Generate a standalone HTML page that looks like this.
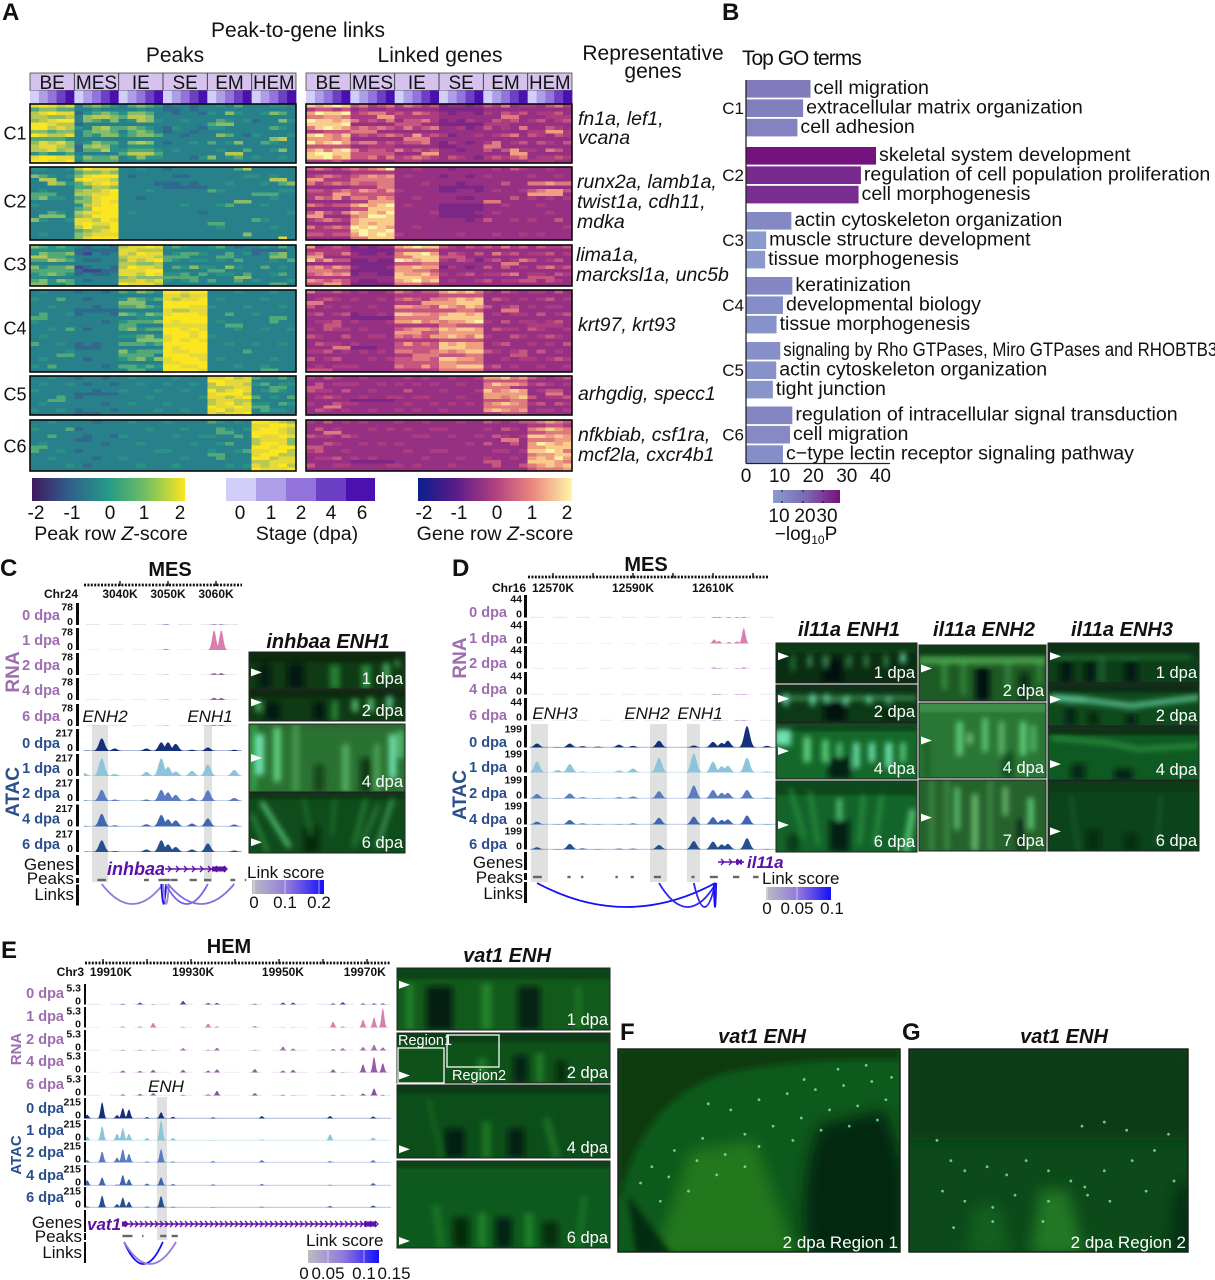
<!DOCTYPE html>
<html lang="en">
<head>
<meta charset="utf-8">
<title>Peak-to-gene links figure</title>
<style>
html,body{margin:0;padding:0;background:#fff;}
svg{display:block;}
svg text{font-family:"Liberation Sans",sans-serif;fill:#111;}
.t21{font-size:21px;}
.rep{font-size:19.5px;font-style:italic;}
.pl{font-size:24px;font-weight:bold;}
.btl{font-size:20px;font-weight:bold;font-style:italic;}
</style>
</head>
<body>
<svg id="fig" xmlns="http://www.w3.org/2000/svg" width="1215" height="1280" viewBox="0 0 1215 1280">
<defs>
<filter id="b1" x="-30%" y="-30%" width="160%" height="160%"><feGaussianBlur stdDeviation="1"/></filter>
<filter id="b2" x="-30%" y="-30%" width="160%" height="160%"><feGaussianBlur stdDeviation="2.8"/></filter>
<filter id="b3" x="-50%" y="-50%" width="200%" height="200%"><feGaussianBlur stdDeviation="3"/></filter>
<filter id="b8" x="-50%" y="-50%" width="200%" height="200%"><feGaussianBlur stdDeviation="7"/></filter>
<linearGradient id="gPeak"><stop offset="0" stop-color="#42195f"/><stop offset=".25" stop-color="#31618c"/><stop offset=".5" stop-color="#259a86"/><stop offset=".75" stop-color="#74c062"/><stop offset="1" stop-color="#fbe61f"/></linearGradient>
<linearGradient id="gGene"><stop offset="0" stop-color="#0a1e8c"/><stop offset=".25" stop-color="#5c1c8a"/><stop offset=".5" stop-color="#b0407f"/><stop offset=".75" stop-color="#ec8a80"/><stop offset="1" stop-color="#fdf6a8"/></linearGradient>
<linearGradient id="gGo"><stop offset="0" stop-color="#8a9ccf"/><stop offset=".5" stop-color="#7c68b2"/><stop offset="1" stop-color="#78107e"/></linearGradient>
<linearGradient id="gLink"><stop offset="0" stop-color="#bcbcc2"/><stop offset=".5" stop-color="#9078dc"/><stop offset="1" stop-color="#1410f8"/></linearGradient>
</defs>

<text class="pl" x="2" y="20">A</text>
<text class="t21" x="298" y="37" text-anchor="middle">Peak-to-gene links</text>
<text class="t21" x="175" y="62" text-anchor="middle">Peaks</text>
<text class="t21" x="440" y="62" text-anchor="middle">Linked genes</text>
<text class="t21" x="653" y="60" text-anchor="middle">Representative</text>
<text class="t21" x="653" y="78" text-anchor="middle">genes</text>

<g id="heatLayer"></g>

<g>
<text class="rep" x="578" y="125">fn1a, lef1,</text>
<text class="rep" x="578" y="144">vcana</text>
<text class="rep" x="577" y="188">runx2a, lamb1a,</text>
<text class="rep" x="577" y="208">twist1a, cdh11,</text>
<text class="rep" x="577" y="228">mdka</text>
<text class="rep" x="576" y="261">lima1a,</text>
<text class="rep" x="576" y="281">marcksl1a, unc5b</text>
<text class="rep" x="578" y="331">krt97, krt93</text>
<text class="rep" x="578" y="400">arhgdig, specc1</text>
<text class="rep" x="578" y="441">nfkbiab, csf1ra,</text>
<text class="rep" x="578" y="461">mcf2la, cxcr4b1</text>
</g>

<g>
<rect x="32" y="478" width="153" height="23" fill="url(#gPeak)"/>
<text style="font-size:19px" x="36" y="519" text-anchor="middle">-2</text>
<text style="font-size:19px" x="72" y="519" text-anchor="middle">-1</text>
<text style="font-size:19px" x="110" y="519" text-anchor="middle">0</text>
<text style="font-size:19px" x="144" y="519" text-anchor="middle">1</text>
<text style="font-size:19px" x="180" y="519" text-anchor="middle">2</text>
<text style="font-size:19.6px" x="111" y="540" text-anchor="middle">Peak row <tspan font-style="italic">Z</tspan>-score</text>
</g>
<g>
<rect x="226" y="478" width="30" height="23" fill="#d2cefa"/>
<rect x="256" y="478" width="30" height="23" fill="#ae9ee8"/>
<rect x="286" y="478" width="30" height="23" fill="#9274dc"/>
<rect x="316" y="478" width="30" height="23" fill="#6d3fc4"/>
<rect x="346" y="478" width="29" height="23" fill="#4a10b0"/>
<text style="font-size:19px" x="240" y="519" text-anchor="middle">0</text>
<text style="font-size:19px" x="271" y="519" text-anchor="middle">1</text>
<text style="font-size:19px" x="301" y="519" text-anchor="middle">2</text>
<text style="font-size:19px" x="331" y="519" text-anchor="middle">4</text>
<text style="font-size:19px" x="362" y="519" text-anchor="middle">6</text>
<text style="font-size:19.6px" x="307" y="540" text-anchor="middle">Stage (dpa)</text>
</g>
<g>
<rect x="418" y="478" width="154" height="23" fill="url(#gGene)"/>
<text style="font-size:19px" x="424" y="519" text-anchor="middle">-2</text>
<text style="font-size:19px" x="459" y="519" text-anchor="middle">-1</text>
<text style="font-size:19px" x="497" y="519" text-anchor="middle">0</text>
<text style="font-size:19px" x="532" y="519" text-anchor="middle">1</text>
<text style="font-size:19px" x="567" y="519" text-anchor="middle">2</text>
<text style="font-size:19.6px" x="495" y="540" text-anchor="middle">Gene row <tspan font-style="italic">Z</tspan>-score</text>
</g>

<text class="pl" x="722" y="20">B</text>
<text class="t21" x="742" y="65" letter-spacing="-1">Top GO terms</text>
<g id="goLayer"></g>
<g>
<rect x="773" y="490" width="67" height="13" fill="url(#gGo)"/>
<path d="M782 490v2M782 501v2M803 490v2M803 501v2M823 490v2M823 501v2" stroke="#111" stroke-width="1"/>
<text style="font-size:19px" x="779" y="522" text-anchor="middle">10</text>
<text style="font-size:19px" x="805" y="522" text-anchor="middle">20</text>
<text style="font-size:19px" x="827" y="522" text-anchor="middle">30</text>
<text style="font-size:19px" x="806" y="540" text-anchor="middle">−log<tspan font-size="12" dy="4">10</tspan><tspan dy="-4">P</tspan></text>
</g>

<text class="pl" x="0" y="576">C</text>
<text class="pl" x="452" y="576">D</text>
<text class="pl" x="1" y="958">E</text>
<text class="pl" x="620" y="1040">F</text>
<text class="pl" x="902" y="1040">G</text>

<g id="trackLayer"></g>
<g id="microLayer"></g>

<text class="btl" x="328" y="648" text-anchor="middle">inhbaa ENH1</text>
<text class="btl" x="849" y="636" text-anchor="middle">il11a ENH1</text>
<text class="btl" x="984" y="636" text-anchor="middle">il11a ENH2</text>
<text class="btl" x="1122" y="636" text-anchor="middle">il11a ENH3</text>
<text class="btl" x="507" y="962" text-anchor="middle">vat1 ENH</text>
<text class="btl" x="762" y="1043" text-anchor="middle">vat1 ENH</text>
<text class="btl" x="1064" y="1043" text-anchor="middle">vat1 ENH</text>
</svg>

<script>
/* ---------- Panel A heatmap values (0 = z -2 ... 9 = z +2) ---------- */
const clusterNames = ['C1','C2','C3','C4','C5','C6'];
const groupNames = ['BE','MES','IE','SE','EM','HEM'];
const peakC1 = [
[8,9,8,7,8,3,5,6,5,4,3,5,6,5,4,2,3,3,2,3,3,4,3,5,3,3,3,4,4,3],
[7,8,9,8,8,2,4,5,6,5,4,6,6,5,3,3,2,3,3,2,4,3,6,4,3,3,4,6,5,3],
[6,7,8,9,9,3,6,5,4,6,3,4,7,6,4,3,3,4,3,3,3,5,4,3,4,2,3,3,6,4],
[9,9,7,8,7,4,3,6,7,5,5,6,5,4,3,2,4,3,3,2,4,4,3,3,3,3,3,5,4,3],
[9,8,7,7,8,3,5,4,6,6,4,5,6,6,5,3,3,2,3,3,3,6,5,3,2,4,3,3,3,4],
[6,8,7,8,6,3,4,6,5,5,3,6,7,6,3,2,3,3,4,3,5,3,4,6,3,3,5,4,3,3],
[7,7,8,6,7,2,5,5,7,4,4,5,5,5,4,3,4,3,3,3,3,4,3,3,5,3,3,4,6,3],
[8,9,9,8,8,4,6,5,5,6,3,4,6,4,4,3,3,3,2,4,6,3,4,5,3,4,3,3,4,3]];
const peakC1b = [
[5,6,6,5,5,3,3,4,3,3,3,3,4,3,3,2,2,3,2,3,3,3,3,3,3,3,3,3,3,3],
[7,7,6,6,7,3,6,7,7,6,5,7,7,6,3,3,3,3,3,3,3,3,3,3,3,3,3,3,3,3],
[9,9,8,7,7,2,3,3,3,3,3,3,3,3,3,3,3,3,3,3,5,6,6,3,3,3,3,3,3,3],
[6,6,5,6,6,3,5,6,6,5,3,5,6,5,3,2,3,3,2,3,3,3,3,3,3,3,3,3,3,3],
[5,5,5,5,4,3,3,3,3,3,3,3,3,3,3,3,3,3,3,3,3,3,3,3,3,3,3,6,7,3],
[7,8,8,7,6,2,6,7,6,4,3,4,4,4,3,3,3,3,3,3,3,3,3,3,3,3,3,3,3,3],
[4,5,4,4,5,3,3,3,3,3,5,7,7,7,5,3,3,3,3,3,3,3,7,7,3,3,3,3,3,3],
[9,9,8,8,9,3,5,5,5,5,3,3,3,3,3,3,3,3,3,3,3,3,3,3,3,3,3,3,3,3]];
const peakC2 = [
[4,4,3,3,4,7,9,8,8,8,3,3,4,3,3,2,3,3,3,3,3,3,3,5,7,3,3,3,3,3],
[6,5,4,3,4,6,8,9,9,9,3,2,3,3,3,3,2,2,3,3,3,3,3,3,4,4,3,4,3,3],
[3,3,7,6,4,5,7,8,9,8,3,3,3,3,2,2,2,3,2,3,3,3,4,3,3,3,4,3,5,6],
[3,4,3,3,3,6,7,7,8,9,3,3,3,4,3,3,3,3,3,3,5,4,3,3,3,3,3,3,4,4],
[5,6,4,4,3,5,6,8,9,9,3,3,2,3,3,3,3,3,3,3,3,3,3,3,3,3,3,4,3,3],
[4,3,3,3,3,4,7,8,9,9,3,3,3,3,3,3,3,4,3,3,3,4,5,3,3,3,4,3,3,3],
[3,3,5,4,3,7,8,8,9,9,3,4,3,3,3,3,3,3,3,2,3,3,3,3,3,3,3,3,3,4],
[6,4,3,3,4,8,8,7,9,8,3,3,3,3,3,3,3,3,3,3,3,3,3,3,3,5,4,3,3,3],
[3,3,3,3,3,7,9,7,7,9,3,3,3,3,3,3,3,3,3,3,3,4,3,3,3,3,3,4,3,3],
[3,4,3,3,3,6,7,8,8,8,3,3,3,3,3,3,3,3,3,3,3,3,3,3,6,3,3,3,3,3]];
const peakC2b = [
[3,3,3,3,3,5,6,6,7,6,3,3,3,3,3,3,3,3,3,3,3,3,3,3,3,3,3,3,3,3],
[3,7,7,3,3,8,9,8,8,7,3,3,3,3,3,3,3,3,3,3,3,3,3,3,3,3,3,7,7,3],
[3,3,3,3,3,5,5,7,7,6,3,3,3,3,3,2,2,2,2,2,3,3,3,3,3,3,3,3,3,3],
[5,5,5,3,3,7,7,8,8,9,3,3,3,3,3,3,3,3,3,3,3,3,3,3,3,5,5,5,3,3],
[3,3,3,3,3,6,6,8,9,8,3,3,3,3,3,3,3,3,3,3,3,3,3,6,6,3,3,3,3,3],
[3,3,3,3,3,5,6,9,9,9,3,3,3,3,3,3,3,3,3,3,3,3,3,3,3,3,3,3,3,3],
[3,6,6,6,3,6,7,9,9,9,3,3,3,3,3,3,3,3,3,3,3,3,3,3,3,3,3,3,3,3],
[3,3,3,3,3,8,9,8,8,9,3,3,3,3,3,3,3,3,3,3,5,5,3,3,3,3,3,3,3,3],
[3,3,3,3,3,5,6,7,8,9,3,3,3,3,3,3,3,3,3,3,3,3,3,3,3,3,3,3,3,3],
[3,3,3,3,3,6,8,9,9,9,3,3,3,3,3,3,3,3,3,3,3,3,3,3,3,3,3,3,8,3]];
const peakC3 = [
[6,5,4,5,4,3,2,3,3,2,7,8,8,9,8,4,5,4,3,3,4,5,3,2,3,3,4,3,5,3],
[4,6,5,5,6,2,1,3,2,3,8,7,9,8,8,3,4,5,5,4,3,3,5,3,4,2,3,5,6,3],
[5,5,7,6,5,3,2,2,3,3,6,8,7,8,9,5,4,3,4,4,3,4,3,5,3,3,3,4,3,5],
[6,4,5,5,6,1,2,3,3,2,7,9,8,8,7,3,5,4,6,4,4,3,6,4,3,3,5,3,4,3],
[4,5,6,5,4,2,3,2,2,3,8,8,7,9,8,4,4,5,3,5,3,4,4,3,5,3,3,4,5,3],
[5,6,4,6,5,3,2,3,3,3,7,7,8,7,8,4,3,4,5,3,5,3,3,5,3,4,3,3,3,4]];
const peakC3b = [
[4,4,4,4,4,2,2,2,2,2,8,8,7,7,7,3,3,3,3,3,3,3,3,3,3,2,2,2,2,3],
[7,7,5,5,4,3,3,3,3,3,7,8,8,8,7,5,5,5,3,3,3,5,5,3,3,3,3,6,6,3],
[3,3,3,3,3,3,3,3,3,3,7,7,6,6,7,3,3,3,3,3,3,3,3,3,3,3,3,3,3,3],
[5,5,5,5,5,2,1,1,2,2,8,8,8,9,9,3,3,3,3,3,5,5,3,3,3,3,3,3,3,3],
[4,4,3,3,3,3,3,3,3,3,6,7,6,6,6,5,5,5,5,3,3,3,3,6,6,3,3,3,3,3],
[6,6,4,4,5,3,3,3,3,3,9,8,8,8,7,3,3,3,3,3,3,3,3,3,3,3,3,5,5,3]];
const peakC4 = [
[3,4,3,3,3,2,3,3,2,3,5,4,6,5,4,9,9,8,9,9,3,3,3,4,3,3,3,4,3,3],
[4,3,3,5,3,3,2,3,3,3,4,6,5,4,5,8,7,8,8,9,3,4,3,3,3,3,4,3,3,3],
[3,3,4,3,3,3,3,2,3,3,5,5,6,5,4,9,9,9,8,8,4,3,3,3,4,3,3,3,4,3],
[3,5,3,3,4,2,3,3,3,2,6,5,4,6,5,8,9,9,9,8,3,3,5,3,3,4,3,3,3,3],
[4,3,3,3,3,3,3,3,2,3,4,5,5,5,6,9,8,9,9,9,3,4,3,3,3,3,3,5,3,3],
[3,3,4,3,5,3,2,3,3,3,5,6,4,5,5,9,9,8,9,8,3,3,3,4,3,3,4,3,3,4],
[3,4,3,3,3,3,3,3,3,3,4,4,5,6,4,8,9,9,8,9,4,3,3,3,3,3,3,3,3,3],
[5,3,3,4,3,2,3,2,3,3,5,5,5,4,5,9,9,9,9,9,3,3,4,3,3,4,3,3,4,3],
[3,3,3,3,4,3,3,3,3,3,6,4,5,5,5,9,8,8,9,9,3,3,3,3,5,3,3,3,3,3],
[3,4,3,3,3,3,2,3,3,3,4,5,6,4,6,8,9,9,9,8,3,4,3,3,3,3,3,4,3,3],
[4,3,5,3,3,3,3,3,2,3,5,5,4,5,4,9,9,8,8,9,3,3,3,4,3,3,4,3,3,3]];
const peakC4b = [
[3,3,3,3,3,3,3,3,3,3,3,3,3,3,3,8,8,7,8,8,3,3,3,3,3,3,3,3,3,3],
[3,3,3,3,3,3,3,3,3,3,6,6,6,3,3,9,9,9,9,9,3,3,3,3,3,3,3,3,3,3],
[3,3,3,3,3,2,2,2,2,2,3,3,3,3,3,8,7,7,8,8,3,3,3,3,3,3,3,3,3,3],
[5,5,3,3,3,3,3,3,3,3,3,3,4,4,4,9,9,9,9,9,3,3,3,3,3,3,3,5,5,3],
[3,3,3,3,3,3,3,3,3,3,5,5,3,3,3,8,8,8,8,8,3,3,5,5,3,3,3,3,3,3],
[3,3,3,3,3,3,3,3,3,3,3,3,3,3,3,9,9,9,8,9,3,3,3,3,3,3,3,3,3,3],
[3,3,3,3,3,3,3,3,3,3,3,3,6,6,6,8,9,8,9,8,3,3,3,3,3,3,3,3,3,3],
[3,3,3,3,3,2,2,2,3,3,3,3,3,3,3,9,8,9,9,9,3,3,3,3,3,3,3,3,3,3],
[3,3,3,5,5,3,3,3,3,3,5,5,5,5,3,9,9,9,8,8,3,3,3,3,3,3,3,3,3,3],
[3,3,3,3,3,3,3,3,3,3,3,3,3,3,3,8,8,9,9,9,3,3,3,3,3,3,3,3,3,3],
[3,3,3,3,3,3,3,3,3,3,3,5,5,3,3,9,9,9,9,8,3,3,3,3,3,3,5,5,3,3]];
const peakC5 = [
[3,3,4,3,3,2,3,3,2,3,3,4,3,3,3,3,4,3,3,3,8,8,9,7,8,5,4,4,5,3],
[3,4,3,3,4,3,2,3,3,2,3,3,4,3,3,4,3,3,4,3,7,9,8,8,7,4,5,3,4,4],
[4,3,3,3,3,3,3,2,3,3,4,3,3,3,4,3,3,4,3,3,9,7,8,9,8,3,4,5,4,3],
[3,3,3,5,3,2,3,3,3,3,3,3,3,4,3,3,3,3,3,4,8,8,7,8,9,5,3,4,3,5],
[3,4,3,3,3,3,3,3,2,3,3,4,3,3,3,4,3,3,3,3,7,8,9,7,8,4,4,3,5,4],
[4,3,3,4,3,2,3,3,3,2,3,3,3,3,4,3,3,4,3,3,8,9,7,8,8,3,5,4,4,3]];
const peakC5b = [
[3,3,3,3,3,3,3,3,3,3,3,3,3,3,3,3,3,3,3,3,9,9,8,8,8,3,3,3,3,3],
[3,3,3,3,3,3,3,3,3,3,3,3,3,3,3,3,3,3,3,3,7,7,7,8,8,3,3,5,5,3],
[3,3,3,3,3,2,2,2,2,2,3,3,3,3,3,3,3,3,3,3,8,9,9,9,7,3,3,3,3,3],
[3,3,5,5,3,3,3,3,3,3,3,3,3,3,3,3,3,3,3,3,7,8,8,7,7,3,3,3,3,3],
[3,3,3,3,3,3,3,3,3,3,3,3,3,3,3,3,3,3,3,3,9,8,8,9,8,5,5,3,3,3],
[3,3,3,3,3,2,2,2,3,3,3,3,3,3,3,3,3,3,3,3,8,7,8,8,9,3,3,3,3,3]];
const peakC6 = [
[3,3,4,3,3,3,3,2,3,3,3,4,3,3,3,4,3,3,3,3,5,4,3,4,3,9,9,8,7,6],
[4,3,3,3,5,2,3,3,3,3,3,3,3,4,3,3,3,4,3,3,3,5,4,3,4,8,9,9,8,7],
[3,3,5,3,3,3,2,3,3,2,4,3,3,3,3,3,4,3,3,4,4,3,3,5,3,9,8,8,9,8],
[3,4,3,3,3,3,3,3,2,3,3,3,4,3,3,3,3,3,4,3,3,4,5,3,3,7,9,9,8,6],
[5,3,3,4,3,2,3,3,3,3,3,3,3,3,4,4,3,3,3,3,4,3,3,4,5,8,8,9,9,7],
[3,3,4,3,3,3,3,2,3,3,4,3,3,3,3,3,3,4,3,3,3,5,3,3,3,9,9,7,8,8],
[3,3,3,3,4,3,2,3,3,3,3,3,4,3,3,3,4,3,3,3,3,3,4,3,4,8,7,8,9,7]];
const peakC6b = [
[3,3,3,3,3,3,3,3,3,3,3,3,3,3,3,3,3,3,3,3,3,3,3,3,3,8,8,9,9,8],
[3,3,3,3,3,3,3,3,3,3,3,3,3,3,3,3,3,3,3,3,3,5,5,3,3,9,9,9,8,7],
[3,3,3,3,3,2,2,3,3,3,3,3,3,3,3,3,3,3,3,3,3,3,3,3,3,7,8,8,8,6],
[5,5,3,3,3,3,3,3,3,3,3,3,3,3,3,3,3,3,3,3,3,3,3,3,3,9,9,8,9,9],
[3,3,3,3,3,3,3,3,3,3,3,3,3,3,3,3,3,3,3,3,5,5,3,3,3,8,9,9,7,7],
[3,3,3,3,3,3,3,3,3,3,3,3,3,3,3,3,3,3,3,3,3,3,3,3,3,7,7,8,8,8],
[3,3,3,3,3,3,3,3,3,3,3,3,3,3,3,3,3,3,3,3,3,3,3,3,3,9,8,8,8,9]];
const geneC1 = [
[8,7,8,9,8,5,6,4,5,6,4,6,5,4,5,2,3,3,2,3,5,4,6,3,4,4,3,5,6,4],
[7,9,8,8,9,4,5,6,6,4,5,4,6,5,4,3,2,3,3,2,4,3,5,4,5,3,4,4,5,3],
[9,8,8,7,8,6,4,5,4,6,3,5,5,6,4,2,3,2,4,3,3,5,4,5,3,4,5,3,4,5],
[6,8,9,8,7,5,6,5,6,5,4,6,4,5,6,3,3,4,2,3,5,3,4,3,6,3,3,5,4,3],
[8,9,7,6,8,4,5,4,5,6,5,4,7,4,5,4,2,3,3,4,3,4,5,6,3,5,4,3,5,4],
[9,7,8,9,7,5,6,6,4,5,4,5,5,6,3,2,4,3,2,3,4,6,3,4,5,3,5,4,3,5],
[7,8,6,8,9,6,4,5,5,4,6,4,5,4,5,3,3,2,3,3,5,3,5,7,4,4,3,6,5,3],
[8,8,9,7,8,5,5,6,4,6,4,5,6,5,4,3,5,4,3,2,4,5,4,5,6,3,4,4,5,4]];
const geneC1b = [
[4,5,5,4,5,3,4,3,3,4,3,3,3,3,3,2,2,2,2,2,3,3,3,3,3,3,3,3,3,3],
[6,6,7,7,6,4,4,4,7,7,4,4,4,4,4,3,3,3,3,3,3,3,6,6,3,3,3,4,4,4],
[8,8,8,8,9,3,3,3,3,3,5,5,5,3,3,2,2,2,2,2,4,4,4,3,3,3,3,3,3,3],
[4,4,5,5,5,6,6,6,3,3,3,3,3,3,3,3,3,3,3,3,3,3,3,3,3,4,4,7,7,4],
[7,7,7,6,7,3,3,3,3,3,3,6,6,6,3,3,3,3,3,3,3,3,3,3,3,3,3,3,3,3],
[5,5,5,5,5,3,3,4,4,4,3,3,3,3,3,2,2,3,3,3,6,6,3,3,3,3,3,3,3,3],
[8,9,9,8,8,5,5,5,5,5,3,3,3,7,7,3,3,3,3,3,3,3,3,7,7,3,3,3,3,3],
[4,4,4,5,4,3,3,3,3,3,4,4,4,3,3,3,3,3,3,3,3,3,3,3,3,4,4,4,3,3]];
const geneC2 = [
[5,6,5,4,5,6,5,6,7,9,3,3,4,3,3,3,2,3,3,3,3,4,3,5,4,3,3,4,3,3],
[4,5,6,5,4,5,6,7,6,7,3,4,3,3,3,2,3,3,2,3,4,3,3,3,3,4,3,3,4,3],
[6,4,5,6,5,6,5,5,6,6,3,3,3,4,3,3,3,2,3,3,3,3,5,3,3,6,6,7,6,6],
[5,5,4,5,6,5,7,6,5,7,4,3,3,3,3,2,2,3,3,2,3,4,3,3,4,5,6,7,7,5],
[4,6,5,7,4,6,6,5,7,6,3,3,4,3,3,3,3,2,2,3,3,3,3,5,3,4,3,4,3,4],
[6,5,4,5,5,7,8,7,8,9,3,4,3,3,3,2,2,2,2,2,3,3,4,3,3,3,4,3,3,3],
[5,7,5,4,6,8,7,8,7,9,3,3,3,3,4,2,2,2,2,3,3,4,3,3,3,3,3,4,3,3],
[4,5,6,5,4,7,8,8,8,8,3,3,3,3,3,3,3,3,2,3,5,3,3,4,3,4,3,3,5,3],
[6,4,5,6,5,9,8,9,8,7,3,3,4,3,3,3,3,3,3,3,3,3,3,3,3,3,3,3,3,4],
[5,5,4,5,5,7,9,8,9,8,4,3,3,3,3,3,3,4,3,3,3,4,3,3,4,3,4,3,3,3]];
const geneC2b = [
[3,3,3,3,3,4,4,4,4,4,3,3,3,3,3,3,3,3,3,3,3,3,3,3,3,3,3,3,3,3],
[7,7,4,4,4,6,6,6,6,6,3,3,3,3,3,3,3,3,3,3,3,3,3,3,3,3,3,3,3,3],
[3,3,3,3,3,4,4,4,6,6,3,3,3,3,3,2,2,2,2,2,3,3,3,3,3,3,3,3,3,3],
[4,4,4,7,7,5,5,5,5,5,3,3,3,3,3,3,3,3,3,3,3,3,3,3,3,7,7,7,7,3],
[3,3,3,3,3,4,4,7,7,7,3,3,3,3,3,3,3,3,3,3,6,6,3,3,3,3,3,3,3,3],
[3,3,3,3,3,5,5,8,8,8,3,3,3,3,3,2,2,2,2,2,3,3,3,3,3,3,3,3,3,3],
[7,7,3,3,3,6,7,9,9,8,3,3,3,3,3,2,2,2,2,2,3,3,3,3,3,3,3,3,3,3],
[3,3,3,3,3,7,8,7,8,8,3,3,3,3,3,3,3,3,3,3,3,3,3,3,3,3,3,3,3,3],
[4,4,4,4,4,8,9,8,8,9,3,3,3,3,3,3,3,3,3,3,3,3,3,3,3,3,3,3,3,3],
[3,3,3,3,3,6,6,8,8,8,3,3,3,3,3,3,3,3,3,3,3,3,3,3,3,3,3,3,3,3]];
const geneC3 = [
[7,3,4,5,4,2,3,2,3,3,7,8,9,8,8,5,4,3,5,4,5,4,6,4,5,3,5,4,4,5],
[5,6,4,4,6,3,2,2,3,2,6,8,8,9,7,3,5,4,3,5,3,6,4,5,3,4,4,5,3,4],
[8,5,7,5,5,2,2,3,2,2,9,8,7,8,8,4,3,5,4,2,4,5,3,4,6,5,3,4,5,3],
[6,7,5,7,6,3,2,2,2,3,7,7,8,7,7,2,4,3,2,3,5,3,5,3,4,3,5,6,4,5],
[5,6,7,6,7,2,3,3,2,2,8,7,7,8,6,4,3,4,5,3,4,4,5,6,3,4,4,3,5,4],
[7,6,5,6,5,3,2,2,3,3,7,8,9,7,8,3,4,3,3,4,5,3,4,4,5,5,3,5,4,3]];
const geneC3b = [
[4,4,4,4,4,2,2,2,2,2,5,5,5,5,5,3,3,3,3,3,3,3,3,3,3,3,3,3,3,3],
[7,7,3,3,3,3,3,3,3,3,6,6,8,8,8,5,5,5,3,3,3,3,3,3,3,3,3,3,3,3],
[3,3,3,3,3,2,2,2,2,2,5,5,5,6,6,3,3,3,3,3,3,3,6,6,3,3,3,3,3,3],
[6,6,6,5,5,2,2,2,2,2,7,7,6,6,5,3,3,3,3,3,3,3,3,3,3,3,3,3,3,3],
[4,4,4,4,4,3,3,3,3,3,8,8,8,7,7,3,3,3,3,3,3,3,3,3,3,5,5,5,3,3],
[5,5,7,7,5,2,2,2,2,2,6,6,6,5,5,3,3,3,3,3,3,3,3,3,3,3,3,3,3,3]];
const geneC4 = [
[6,4,4,5,4,3,4,3,3,4,6,5,4,5,5,7,8,7,8,6,4,3,5,4,3,4,4,3,5,3],
[3,4,5,4,3,4,3,3,4,3,5,6,5,4,6,6,7,8,7,8,3,5,4,3,4,3,4,5,3,4],
[5,3,4,3,4,3,3,4,3,3,7,7,6,6,5,8,7,6,8,7,5,3,4,5,3,4,3,4,4,3],
[4,5,3,4,5,2,3,3,4,3,8,8,7,7,6,7,8,8,7,8,3,4,3,4,4,3,5,3,4,5],
[3,4,4,5,3,4,3,3,3,4,7,7,8,6,7,6,7,7,8,9,4,3,5,3,4,4,3,4,5,3],
[4,3,5,4,4,3,4,3,3,3,5,6,7,7,6,8,7,8,8,7,3,5,4,4,3,5,4,3,3,4],
[5,4,3,3,5,3,3,4,4,3,6,5,6,5,7,7,8,7,6,8,4,3,3,5,4,3,4,5,4,3],
[3,5,4,4,3,4,3,3,3,3,5,7,5,6,5,8,7,8,7,7,3,4,5,3,3,4,3,4,3,5],
[4,4,5,3,4,3,4,3,4,3,6,6,5,5,6,7,6,7,8,8,5,4,3,4,5,3,5,3,4,3],
[5,3,4,5,3,3,3,4,3,4,5,5,6,6,5,8,8,7,7,6,3,3,4,3,4,4,3,4,5,4],
[3,4,3,4,4,4,3,3,3,3,6,5,5,7,5,7,7,8,8,8,4,5,3,4,3,3,4,3,3,4]];
const geneC4b = [
[3,3,3,3,3,3,3,3,3,3,4,4,4,4,4,5,5,5,5,5,3,3,3,3,3,3,3,3,3,3],
[6,6,3,3,3,3,3,3,3,3,4,4,4,7,7,7,7,8,8,8,3,3,3,3,3,3,3,3,3,3],
[3,3,3,3,3,3,3,3,3,3,5,5,5,5,5,5,5,6,6,5,3,3,6,6,3,3,3,3,3,3],
[3,3,3,3,3,2,2,2,2,2,6,6,6,6,6,8,8,8,8,8,3,3,3,3,3,3,3,3,3,3],
[3,3,5,5,3,3,3,3,3,3,4,4,4,4,4,6,6,5,5,5,3,3,3,3,3,4,4,4,4,3],
[3,3,3,3,3,3,3,3,3,3,7,7,7,5,5,7,7,7,7,7,3,3,3,3,3,3,3,3,3,3],
[3,3,3,3,3,3,3,3,3,3,4,4,4,4,4,5,5,5,5,5,3,3,3,3,3,3,3,3,3,3],
[3,3,3,6,6,2,2,2,3,3,5,5,5,5,5,8,8,8,7,7,3,3,3,3,3,3,3,3,3,3],
[3,3,3,3,3,3,3,3,3,3,4,4,6,6,6,5,5,5,6,6,3,3,3,5,5,3,3,3,3,3],
[3,3,3,3,3,3,3,3,3,3,5,5,5,5,5,7,7,6,6,6,3,3,3,3,3,3,3,3,3,3],
[5,5,5,3,3,3,3,3,3,3,4,4,4,4,4,6,6,6,6,6,3,3,3,3,3,3,3,3,3,3]];
const geneC5 = [
[4,3,5,4,3,3,4,3,3,3,3,4,3,4,3,3,4,3,3,4,7,7,8,6,7,5,4,3,4,5],
[3,5,3,4,4,4,3,3,4,3,4,3,4,3,4,3,3,4,3,3,6,8,7,7,6,4,5,4,3,4],
[5,4,4,3,5,3,3,4,3,3,3,5,3,3,3,4,3,3,3,4,8,6,7,8,7,3,4,5,5,3],
[3,4,5,4,3,3,4,3,3,4,4,3,4,4,3,3,3,4,3,3,7,7,6,7,8,5,3,4,4,5],
[4,3,3,5,4,4,3,3,3,3,3,4,3,3,4,3,4,3,4,3,6,7,8,7,6,4,5,3,5,4],
[3,5,4,3,4,3,3,4,3,3,4,3,4,3,3,4,3,3,3,3,7,8,7,6,7,3,4,4,3,4]];
const geneC5b = [
[3,3,3,3,3,3,3,3,3,3,3,3,3,3,3,3,3,3,3,3,5,5,5,5,5,3,3,3,3,3],
[5,5,3,3,3,3,3,3,3,3,3,3,3,3,3,3,3,3,3,3,6,6,6,4,4,3,3,3,3,3],
[3,3,3,3,3,3,3,3,3,3,3,3,3,3,3,3,3,3,3,3,7,7,7,7,7,3,3,6,6,3],
[3,3,3,3,3,2,2,2,2,2,3,3,3,3,3,3,3,3,3,3,5,5,5,6,6,3,3,3,3,3],
[3,3,6,6,3,3,3,3,3,3,3,3,3,3,3,3,3,3,3,3,6,6,6,6,6,3,3,3,3,3],
[3,3,3,3,3,3,3,3,3,3,3,3,3,3,3,3,3,3,3,3,4,4,5,5,5,3,3,3,3,3]];
const geneC6 = [
[4,3,5,3,4,3,4,3,3,3,4,3,3,4,3,3,3,4,3,3,5,4,3,4,5,5,6,7,6,5],
[3,5,3,4,3,3,3,4,3,4,3,4,3,3,4,4,3,3,3,3,4,3,5,4,3,6,7,8,7,6],
[5,4,4,3,5,4,3,3,3,3,3,3,4,4,3,3,4,3,3,4,3,5,4,3,4,8,8,7,8,7],
[3,3,5,4,3,3,4,3,4,3,4,3,3,3,3,3,3,3,4,3,5,3,3,5,3,7,9,8,7,8],
[4,5,3,3,4,3,3,3,3,3,3,4,3,3,4,4,3,3,3,3,3,4,4,3,4,8,8,9,8,6],
[3,4,4,5,3,4,3,4,3,3,3,3,3,4,3,3,3,4,3,3,4,3,3,4,3,7,8,7,9,7],
[5,3,3,4,4,3,3,3,3,4,4,3,4,3,3,3,4,3,3,3,3,5,3,3,5,6,7,8,7,8]];
const geneC6b = [
[3,3,3,3,3,3,3,3,3,3,3,3,3,3,3,3,3,3,3,3,3,3,3,3,3,4,4,5,5,4],
[3,3,6,6,3,3,3,3,3,3,3,3,3,3,3,3,3,3,3,3,3,3,3,3,3,5,5,6,6,6],
[3,3,3,3,3,3,3,3,3,3,3,3,3,3,3,3,3,3,3,3,3,3,6,6,3,6,6,6,7,7],
[5,5,3,3,3,3,3,3,3,3,3,3,3,3,3,3,3,3,3,3,3,3,3,3,3,7,7,8,8,8],
[3,3,3,3,3,3,3,3,3,3,3,3,3,3,3,3,3,3,3,3,3,3,3,3,3,6,7,7,8,8],
[3,3,3,3,3,2,2,2,2,2,3,3,3,3,3,3,3,3,3,3,5,5,3,3,3,8,8,8,7,6],
[3,3,3,3,3,3,3,3,3,3,3,3,3,3,3,3,3,3,3,3,3,3,3,3,3,5,6,6,6,7]];

/* ---------- Panel B values ---------- */
const goClusters = ['C1','C2','C3','C4','C5','C6'];
const goTerms = [
['cell migration','extracellular matrix organization','cell adhesion'],
['skeletal system development','regulation of cell population proliferation','cell morphogenesis'],
['actin cytoskeleton organization','muscle structure development','tissue morphogenesis'],
['keratinization','developmental biology','tissue morphogenesis'],
['signaling by Rho GTPases, Miro GTPases and RHOBTB3','actin cytoskeleton organization','tight junction'],
['regulation of intracellular signal transduction','cell migration','c−type lectin receptor signaling pathway']];
const goValues = [[19.2,17,15.3],[38.7,34.2,33.5],[13.5,6,5.7],[13.8,11,9.1],[10.2,9,8],[13.8,13.1,11]];
const goTicks = [0,10,20,30,40];

/* ---------- Panel C values ---------- */
const cTickK = [3040,3050,3060];
const cTickLabels = ['3040K','3050K','3060K'];
const cRnaPeakK = [3049.6,3059.6,3061.1];
const cRnaValues = [[2,2,2],[4,70,70],[1,7,7],[1,8,7],[1,3,3]];
const cAtacPeakK = [3032.5,3036.2,3038.9,3045.5,3048.6,3050.0,3051.6,3055.0,3058.3,3063.8];
const cAtacValues = [
[5,125,25,25,85,85,70,12,35,12],
[30,175,20,40,175,90,45,50,115,60],
[8,110,15,15,110,85,60,30,105,30],
[8,125,12,22,115,70,60,30,80,20],
[5,115,10,25,115,75,50,25,85,15]];
const cPeakStart = [3035.3,3045,3048,3050.6,3054.5,3057.5,3063,3066];
const cPeakEnd = [3037.1,3046,3050.5,3052,3056,3059,3064,3066.3];
const cLinkStart = [3036.2,3048.6,3049,3049.5,3050];
const cLinkEnd = [3049,3049.6,3050.2,3058.3,3063.8];
const cLinkScore = [0.1,0.2,0.08,0.12,0.11];

/* ---------- Panel D values ---------- */
const dTickK = [12570,12590,12610];
const dTickLabels = ['12570K','12590K','12610K'];
const dRnaPeakK = [12610.3,12611.5,12614,12616,12617.7];
const dRnaValues = [[1,1,1,1,1],[8,5,3,4,30],[2,1,0,1,2],[1,1,0,1,1],[1,1,0,1,1]];
const dAtacPeakK = [12566,12571.2,12574.2,12577.4,12581.2,12586.5,12590,12596.5,12605.2,12610,12612.2,12613.7,12618.5,12623.5];
const dAtacValues = [
[35,5,35,12,8,25,15,60,18,50,40,60,190,15],
[95,22,75,10,5,18,35,130,170,95,55,60,130,10],
[40,5,45,12,5,12,18,65,115,75,50,50,75,8],
[25,5,40,10,5,5,10,60,70,65,40,45,80,5],
[20,5,50,10,5,8,8,40,75,70,45,50,100,5]];
const dPeakStart = [12565,12573.6,12577,12585.6,12589.4,12595.2,12604.6,12609.2,12615,12620];
const dPeakEnd = [12567.2,12574.4,12577.6,12586.2,12590.2,12597,12605.4,12611.2,12616.6,12621.4];
const dLinkStart = [12566,12596.5,12605.2,12610.2];
const dLinkEnd = [12610.6,12610.8,12610.6,12610.8];
const dLinkScore = [0.1,0.09,0.09,0.1];

/* ---------- Panel E values ---------- */
const eTickK = [19910,19920,19930,19940,19950,19960,19970];
const eLabelK = [19911.8,19930.5,19950.9,19969.5];
const eTickLabels = ['19910K','19930K','19950K','19970K'];
const eRnaPeakK = [19914.5,19918.4,19921.4,19928.2,19933.9,19935.9,19944.5,19950.9,19953.2,19962.3,19964.5,19969.1,19971.6,19973.6];
const eRnaValues = [
[0.2,0.5,0.1,0.9,0.4,0.4,0.2,0.5,0.5,0.3,0.6,0.3,0.3,0.3],
[0.3,0.3,1.2,0.2,1,0.3,0.4,0.1,0.1,1.5,0.3,2,2.6,5],
[0.2,0.2,0.2,0.6,0.2,0.7,0.2,1,0.5,0.4,0.6,0.9,1.5,0.8],
[0.5,0.4,0.7,0.7,0.5,0.8,0.9,0.5,0.7,0.8,0.1,2.1,4,2.4],
[0.3,0.4,0.6,0.2,0.3,1.2,0.6,0.2,0.1,0.2,0.2,0.5,1.8,0.2]];
const eAtacPeakK = [19906.4,19909.8,19913.2,19914.5,19915.9,19920,19923.2,19925.9,19935,19946.1,19961.6,19971.4];
const eAtacValues = [
[40,170,35,110,95,15,65,18,12,25,25,20],
[40,150,70,130,70,25,210,25,5,10,65,30],
[25,115,50,140,90,12,140,12,15,25,15,25],
[55,85,10,110,65,20,85,15,12,15,8,25],
[10,125,35,105,60,10,120,8,5,8,15,20]];
const ePeakStart = [19914.4,19918.9,19923,19925.6];
const ePeakEnd = [19916.7,19919.2,19924.4,19927];
const eLinkStart = [19914.8,19914.8];
const eLinkEnd = [19923.6,19926.6];
const eLinkScore = [0.15,0.07];

/* ---------- shared helpers ---------- */
const NS = 'http://www.w3.org/2000/svg';
const peakPalette = ['#3f1a68','#3c4a8c','#2f6a8e','#27808a','#2a9285','#52a878','#88bc68','#b8c850','#e4d83a','#fbe61f'];
const genePalette = ['#2a1d85','#5a2087','#7c2686','#963083','#ac3b80','#c65580','#de7a80','#ef9f80','#f9cc8c','#fdf4a6'];
const stageColors = ['#d2cefa','#ae9ee8','#9274dc','#6d3fc4','#4a10b0'];
const rnaColors = ['#5f3a96','#d87fb0','#a76bb0','#9a58a8','#84509f'];
const atacColors = ['#15307a','#8cc4dc','#5a7cc2','#3f66b0','#24508f'];

function make(tag, attrs, parent, txt){
  const el = document.createElementNS(NS, tag);
  for (const k in attrs) el.setAttribute(k, attrs[k]);
  if (txt !== undefined) el.textContent = txt;
  parent.appendChild(el);
  return el;
}
function named(tag, attrs, parent, name, txt, active){
  const el = make(tag, attrs, parent, txt);
  
  
  return el;
}
function weave(a,b){
  const out=[];
  a.forEach((row,i)=>{ out.push(row); if(b[i]) out.push(b[i]); });
  return out;
}

/* ---------- heatmaps ---------- */
const heatLayer = document.getElementById('heatLayer');
const clusterTop = [104,167,245,290,376,420];
const clusterBottom = [163,240,286,372,415,471];
const labelCenter = [133,201,264,328,394,446];
const peakSets = [weave(peakC1,peakC1b),weave(peakC2,peakC2b),weave(peakC3,peakC3b),weave(peakC4,peakC4b),weave(peakC5,peakC5b),weave(peakC6,peakC6b)];
const geneSets = [weave(geneC1,geneC1b),weave(geneC2,geneC2b),weave(geneC3,geneC3b),weave(geneC4,geneC4b),weave(geneC5,geneC5b),weave(geneC6,geneC6b)];

function drawHeat(x0, width, sets, palette, side){
  const cellW = width / 30;
  const groupW = width / 6;
  named('rect',{x:x0,y:73,width:width,height:17.5,fill:'#d6c2ec',stroke:'#444','stroke-width':0.8},heatLayer,side+'-group-strip');
  groupNames.forEach((g,i)=>{
    if(i) named('line',{x1:x0+i*groupW,x2:x0+i*groupW,y1:73,y2:90,stroke:'#333','stroke-width':0.9},heatLayer,side+'-group-divider');
    const a = {x:x0+(i+.5)*groupW,y:89,'text-anchor':'middle','font-size':19};
    if(g.length>2){a.textLength=groupW-3;a.lengthAdjust='spacingAndGlyphs';}
    named('text',a,heatLayer,side+'-group-label',g);
    stageColors.forEach((c,s)=>{
      named('rect',{x:x0+(i*5+s)*cellW,y:90.5,width:cellW+.4,height:13.5,fill:c},heatLayer,side+'-stage-cell');
    });
  });
  sets.forEach((rows,c)=>{
    const top=clusterTop[c], h=clusterBottom[c]-top, rowH=h/rows.length;
    rows.forEach((row,r)=>{
      row.forEach((v,j)=>{
        const idx=Math.max(0,Math.min(9,Math.round(v)));
        const cell=make('rect',{x:x0+j*cellW,y:top+r*rowH,width:cellW+.4,height:rowH+.4,fill:palette[idx],'shape-rendering':'crispEdges'},heatLayer);
        
        
      });
    });
    named('rect',{x:x0,y:top,width:width,height:h,fill:'none',stroke:'#0a0a0a','stroke-width':1.6},heatLayer,side+'-cluster-frame');
  });
}
drawHeat(30,266,peakSets,peakPalette,'peak');
drawHeat(306,266,geneSets,genePalette,'gene');
clusterNames.forEach((n,i)=>{
  named('text',{x:15,y:labelCenter[i]+6.5,'text-anchor':'middle','font-size':18},heatLayer,'cluster-label',n);
});

/* ---------- GO bars ---------- */
const goLayer = document.getElementById('goLayer');
const goX = v => 746 + v * 3.36;
const goTop = [80,147,212,277,342,406.5];
function mix(a,b,t){
  const p=s=>[1,3,5].map(i=>parseInt(s.substr(i,2),16));
  const A=p(a),B=p(b);
  return 'rgb('+A.map((v,i)=>Math.round(v+(B[i]-v)*t)).join(',')+')';
}
function goColor(v){
  if(v<20) return mix('#8a9ccf','#8078ba',Math.max(0,(v-5)/15));
  return mix('#8078ba','#74107f',Math.min(1,(v-20)/19));
}
goClusters.forEach((c,i)=>{
  goValues[i].forEach((v,r)=>{
    const y=goTop[i]+r*19.4;
    named('rect',{x:746,y:y,width:goX(v)-746,height:17.6,fill:goColor(v)},goLayer,'go-bar');
    const a={x:goX(v)+3,y:y+14,'font-size':19.6};
    if(goTerms[i][r].length>48){a.textLength=434;a.lengthAdjust='spacingAndGlyphs';}
    named('text',a,goLayer,'go-term-label',goTerms[i][r]);
  });
  named('text',{x:744,y:goTop[i]+34,'text-anchor':'end','font-size':17},goLayer,'go-cluster-label',c);
});
named('line',{x1:746,x2:746,y1:80,y2:463.5,stroke:'#222','stroke-width':1.3},goLayer,'go-y-axis');
named('line',{x1:746,x2:890,y1:463.5,y2:463.5,stroke:'#222','stroke-width':1.3},goLayer,'go-x-axis');
goTicks.forEach(t=>{
  named('text',{x:goX(t),y:482,'text-anchor':'middle','font-size':19},goLayer,'go-x-tick',String(t));
});

/* ---------- genome tracks ---------- */
const trackLayer = document.getElementById('trackLayer');
function trackArea(scale,y0,h,yMax,ks,vals,wPx,xL,xR,color,parent,name){
  let d='M'+xL+' '+y0;
  for(let x=xL;x<=xR;x+=0.5){
    let m=0;
    ks.forEach((k,i)=>{
      const u=(x-scale(k))/wPx;
      const s=vals[i]/yMax*h*Math.exp(-u*u);
      if(s>m)m=s;
    });
    d+=' L'+x+' '+(y0-m).toFixed(2);
  }
  d+=' L'+xR+' '+y0+'Z';
  named('path',{d:d,fill:color,stroke:'none'},parent,name);
}
function drawPanel(p){
  const g=named('g',{},trackLayer,p.id+'-tracks');
  p.highlights.forEach(b=>{
    named('rect',{x:b[0],width:b[1]-b[0],y:p.hiTop,height:p.hiBottom-p.hiTop,fill:'#dfe0e0'},g,'enhancer-highlight');
  });
  named('text',{x:p.titleX,y:p.titleY,'text-anchor':'middle','font-size':20,'font-weight':'bold'},g,p.id+'-cell-type-title',p.title);
  named('text',{x:p.chrX,y:p.labY,'text-anchor':'end','font-size':12,'font-weight':'bold'},g,p.id+'-chromosome-label',p.chr);
  named('line',{x1:p.xL,x2:p.rulerR||p.xR,y1:p.rulerY,y2:p.rulerY,stroke:'#111','stroke-width':2.8,'stroke-dasharray':'2 1.4'},g,p.id+'-ruler');
  p.majorK.forEach(k=>{
    named('line',{x1:p.scale(k),x2:p.scale(k),y1:p.rulerY-4,y2:p.rulerY+1,stroke:'#111','stroke-width':1.4},g,p.id+'-ruler-tick');
  });
  p.labelK.forEach((k,i)=>{
    named('text',{x:p.scale(k),y:p.labY,'text-anchor':'middle','font-size':12,'font-weight':'bold'},g,p.id+'-tick-label',p.labels[i]);
  });
  const stages=['0 dpa','1 dpa','2 dpa','4 dpa','6 dpa'];
  const both=[
    {tops:p.rnaTops,ks:p.rnaK,vals:p.rnaVals,max:p.rnaMax,colors:rnaColors,lab:'#9d6db0',w:p.rnaW,kind:'rna',off:p.rnaOff},
    {tops:p.atacTops,ks:p.atacK,vals:p.atacVals,max:p.atacMax,colors:atacColors,lab:'#2a4f8c',w:p.atacW,kind:'atac',off:p.atacOff}];
  both.forEach(s=>{
    s.tops.forEach((top,i)=>{
      const y0=top+p.h;
      named('line',{x1:p.xL+2,x2:p.xR,y1:y0-.3,y2:y0-.3,stroke:s.colors[i],'stroke-width':0.7,opacity:s.kind==='rna'?0.22:0.55,'stroke-dasharray':s.kind==='rna'?'14 9':'none'},g,s.kind+'-baseline');
      trackArea(p.scale,y0,p.h,s.max,s.ks,s.vals[i],s.w,p.xL,p.xR,s.colors[i],g,s.kind+'-signal-'+i);
      named('rect',{x:p.barX,y:top,width:p.barW,height:p.h,fill:'#0a0a0a'},g,s.kind+'-scale-bar');
      named('text',{x:p.scaleLabX,y:top+7.5,'text-anchor':'end','font-size':10.5,'font-weight':'bold'},g,s.kind+'-scale-max',String(s.max));
      named('text',{x:p.scaleLabX,y:y0,'text-anchor':'end','font-size':10.5,'font-weight':'bold'},g,s.kind+'-scale-zero','0');
      const t=named('text',{x:p.dpaX,y:top+s.off+5,'text-anchor':'end','font-size':14.5,'font-weight':'bold'},g,s.kind+'-stage-label',stages[i]);
      t.style.fill=s.lab;
    });
  });
  p.vert.forEach(v=>{
    const t=named('text',{transform:'translate('+v[0]+','+v[1]+') rotate(-90)','text-anchor':'middle','font-size':p.vertSize,'font-weight':'bold'},g,'assay-label',v[2]);
    t.style.fill=v[3];
  });
  p.enh.forEach(e=>{
    named('text',{x:e[0],y:p.enhY,'text-anchor':'middle','font-size':17,'font-style':'italic'},g,'enhancer-label',e[1]);
  });
  p.rows.forEach(r=>{
    named('text',{x:p.scaleLabX+1,y:r[1],'text-anchor':'end','font-size':17},g,'row-label',r[0]);
    named('rect',{x:p.barX,y:r[2],width:p.barW,height:r[3],fill:'#0a0a0a'},g,'row-bar');
  });
  /* peaks */
  p.peakS.forEach((s,i)=>{
    named('line',{x1:p.scale(s),x2:p.scale(p.peakE[i]),y1:p.peakY,y2:p.peakY,stroke:'#666','stroke-width':2.4},g,'peak-dash');
  });
  /* links */
  p.linkS.forEach((s,i)=>{
    const a=p.scale(s), b=p.scale(p.linkE[i]), t=p.linkScore[i]/p.linkMax;
    const col=t<0.5?mix('#bcbcc2','#9078dc',t*2):mix('#9078dc','#1410f8',(t-.5)*2);
    named('path',{d:'M'+a+' '+p.linkY+' Q'+(a+b)/2+' '+(2*p.linkBottom-p.linkY)+' '+b+' '+p.linkY,fill:'none',stroke:col,'stroke-width':1.8},g,'peak-gene-link');
  });
  /* gene */
  const gt=named('text',{x:p.gene.x,y:p.gene.y+6,'font-size':p.gene.size,'font-weight':'bold','font-style':'italic'},g,'gene-name',p.gene.name);
  gt.style.fill='#5c10a8';
  named('line',{x1:p.gene.x1,x2:p.gene.x2,y1:p.gene.y,y2:p.gene.y,stroke:'#5c10a8','stroke-width':1.4},g,'gene-line');
  for(let x=p.gene.x1+3;x<p.gene.x2;x+=p.gene.step){
    named('path',{d:'M'+x+' '+(p.gene.y-3)+' l3 3 l-3 3',fill:'none',stroke:'#5c10a8','stroke-width':1.3},g,'gene-strand-arrow');
  }
  p.gene.exons.forEach(e=>{
    named('rect',{x:e[0],y:p.gene.y-2.5,width:e[1]-e[0],height:5,fill:'#5c10a8'},g,'gene-exon');
  });
  /* legend */
  named('text',{x:p.leg.x,y:p.leg.y,'font-size':17},g,'link-score-title','Link score');
  named('rect',{x:p.leg.bx,y:p.leg.by,width:p.leg.bw,height:p.leg.bh,fill:'url(#gLink)'},g,'link-score-colorbar');
  p.leg.ticks.forEach(t=>{
    named('text',{x:t[0],y:p.leg.ty,'text-anchor':'middle','font-size':p.leg.size},g,'link-score-tick',t[1]);
    named('line',{x1:t[0],x2:t[0],y1:p.leg.by,y2:p.leg.by+p.leg.bh,stroke:'#fff','stroke-width':0.8,opacity:.7},g,'link-score-tick-mark');
  });
}

drawPanel({id:'panel-c',title:'MES',titleX:170,titleY:576,chr:'Chr24',chrX:78,labY:598,xL:84,xR:242,rulerY:585,
  scale:k=>120+(k-3040)*4.8,majorK:cTickK,labelK:cTickK,labels:cTickLabels,h:22,barX:76,barW:3,scaleLabX:73,dpaX:60,
  rnaTops:[603,628,653,678,704],atacTops:[729,754,779,804.5,830],rnaK:cRnaPeakK,rnaVals:cRnaValues,rnaMax:78,rnaW:2.8,rnaOff:12,
  atacK:cAtacPeakK,atacVals:cAtacValues,atacMax:217,atacW:4,atacOff:14,
  highlights:[[92,108],[204,212]],hiTop:725,hiBottom:882,
  vert:[[19,672,'RNA','#9d6db0'],[19,792,'ATAC','#2a4f8c']],vertSize:19,
  enh:[[105,'ENH2'],[210,'ENH1']],enhY:722,
  rows:[['Genes',870,855,20],['Peaks',884,878,5],['Links',900,884.5,21]],
  peakS:cPeakStart,peakE:cPeakEnd,peakY:880,
  linkS:cLinkStart,linkE:cLinkEnd,linkScore:cLinkScore,linkMax:0.2,linkY:884,linkBottom:904,
  gene:{name:'inhbaa',x:107,y:869,size:18,x1:165,x2:226,step:8,exons:[[212,226]]},
  leg:{x:247,y:878,bx:252,by:880,bw:72,bh:14,ty:908,size:17,ticks:[[254,'0'],[285,'0.1'],[319,'0.2']]}});

drawPanel({id:'panel-d',title:'MES',titleX:646,titleY:571,chr:'Chr16',chrX:526,labY:592,xL:528,xR:780,rulerR:769,rulerY:577,
  scale:k=>553+(k-12570)*4,majorK:[12570,12580,12590,12600,12610,12620],labelK:dTickK,labels:dTickLabels,h:22.5,barX:524,barW:3,scaleLabX:522,dpaX:507,
  rnaTops:[595,621,646,672,698],atacTops:[725,750,776,802,827],rnaK:dRnaPeakK,rnaVals:dRnaValues,rnaMax:44,rnaW:2.4,rnaOff:17,
  atacK:dAtacPeakK,atacVals:dAtacValues,atacMax:199,atacW:4,atacOff:17,
  highlights:[[531,548],[650,667],[687,700]],hiTop:724,hiBottom:882,
  vert:[[466,658,'RNA','#9d6db0'],[466,795,'ATAC','#2a4f8c']],vertSize:19,
  enh:[[555,'ENH3'],[647,'ENH2'],[700,'ENH1']],enhY:719,
  rows:[['Genes',868,852,18],['Peaks',883,873,7],['Links',899,882,21]],
  peakS:dPeakStart,peakE:dPeakEnd,peakY:877,
  linkS:dLinkStart,linkE:dLinkEnd,linkScore:dLinkScore,linkMax:0.1,linkY:883,linkBottom:907,
  gene:{name:'il11a',x:747,y:862,size:17,x1:718,x2:744,step:8,exons:[[736,738],[740,742]]},
  leg:{x:762,y:884,bx:766,by:887,bw:65,bh:13,ty:914,size:17,ticks:[[767,'0'],[797,'0.05'],[832,'0.1']]}});

drawPanel({id:'panel-e',title:'HEM',titleX:229,titleY:953,chr:'Chr3',chrX:84,labY:976,xL:85,xR:391,rulerY:963,
  scale:k=>103+(k-19910)*4.4,majorK:eTickK,labelK:eLabelK,labels:eTickLabels,h:20.5,barX:84,barW:2,scaleLabX:81,dpaX:64,
  rnaTops:[984,1007,1030,1052,1075],atacTops:[1098,1120,1142,1165,1187],rnaK:eRnaPeakK,rnaVals:eRnaValues,rnaMax:5.3,rnaW:2,rnaOff:9,
  atacK:eAtacPeakK,atacVals:eAtacValues,atacMax:215,atacW:2.2,atacOff:10,
  highlights:[[157,167]],hiTop:1097,hiBottom:1240,
  vert:[[21,1049,'RNA','#9d6db0'],[21,1155,'ATAC','#2a4f8c']],vertSize:15,
  enh:[[166,'ENH']],enhY:1092,
  rows:[['Genes',1228,1210,22],['Peaks',1242,1233,7],['Links',1258,1242,21]],
  peakS:ePeakStart,peakE:ePeakEnd,peakY:1236,
  linkS:eLinkStart,linkE:eLinkEnd,linkScore:eLinkScore,linkMax:0.15,linkY:1242,linkBottom:1264,
  gene:{name:'vat1',x:87,y:1224,size:17,x1:122,x2:376,step:5,exons:[[122,126],[364,376]]},
  leg:{x:306,y:1246,bx:308,by:1250,bw:71,bh:13,ty:1279,size:17,ticks:[[304,'0'],[328,'0.05'],[364,'0.1'],[394,'0.15']]}});

/* ---------- microscopy panels (non-chart imagery, drawn as blurred strokes) ---------- */
const microLayer = document.getElementById('microLayer');
const BR='#6be08a', MID='#38b04e', TEAL='#7af0c0', DK='#02100a';
function V(x,w,c,o,y0,y1,lean){return [x,y0===undefined?0:y0,x+(lean||0),y1===undefined?1:y1,w,c,o];}
const microPanels = [
 {n:'inhbaa-1dpa',x:249,y:652,w:156,h:37,bg:'#0e3a14',top:'#0a2a10',band:.28,label:'1 dpa',a:.55,l:[V(.3,16,DK,.8,.3),V(.1,12,DK,.7,.3),V(.55,10,MID,.6,.35),V(.75,9,MID,.7,.35),V(.88,6,BR,.7,.3,.7),V(.95,4,BR,.6,.2,.4)]},
 {n:'inhbaa-2dpa',x:249,y:690,w:156,h:31,bg:'#0e3a14',top:'#0a2a10',band:.25,label:'2 dpa',a:.4,l:[V(.15,14,DK,.8,.4),V(.45,12,DK,.8,.4),V(.06,5,BR,.8,.35,.7),V(.55,6,MID,.7,.35),V(.68,6,BR,.8,.3,.7),V(.78,6,BR,.8,.25,.7),V(.9,6,TEAL,.8,.2,.6)]},
 {n:'inhbaa-4dpa',x:249,y:724,w:156,h:68,bg:'#2a7232',top:'#2a6a30',band:.1,label:'4 dpa',a:.5,l:[V(.07,8,TEAL,.9,.15,.75),V(.18,7,BR,.9,.05,.85),V(.03,5,MID,.9),V(.3,6,'#55b060',.7),V(.45,10,DK,.5,.6),V(.62,7,'#5fc070',.8,.3),V(.75,12,DK,.6,.5),V(.92,7,TEAL,.9,.15,.8),V(.97,5,BR,.8,.1,.5),V(.82,5,'#66c070',.7,.3)]},
 {n:'inhbaa-6dpa',x:249,y:793,w:156,h:60,bg:'#0f4c1c',top:'#0a3814',band:.1,label:'6 dpa',a:.82,l:[V(.08,4,BR,.9,.15,.9,.18),V(.02,3,MID,.8,.35,1,.1),V(.4,16,DK,.6,.55),V(.35,2,MID,.6,.1,.7,.05),V(.55,2,MID,.6,.1,.7,-.02),V(.75,3,MID,.7,.1,.9,-.08),V(.92,3,BR,.7,.1,.9,-.1),V(.83,2,BR,.6,.2,.8,-.1)]},

 {n:'il11a-enh1-1dpa',x:776,y:643,w:141,h:40,bg:'#0a2e12',top:'#0a3a14',band:.25,label:'1 dpa',a:.33,l:[V(.4,20,DK,.9,.4),V(.12,3,MID,.8,.3,.7),V(.24,3,BR,.8,.3,.6),V(.35,3,BR,.7,.3,.6),V(.52,3,BR,.7,.3,.6),V(.64,3,BR,.7,.3,.6),V(.78,3,BR,.7,.3,.6),V(.9,5,TEAL,.9,.25,.5)]},
 {n:'il11a-enh1-2dpa',x:776,y:685,w:141,h:37,bg:'#0c3a16',top:'#0a3012',band:.2,label:'2 dpa',a:.37,l:[V(.42,22,DK,.9,.45),V(.8,10,DK,.6,.6),[0,.35,1,.35,3,BR,.7],V(.07,5,TEAL,.9,.25,.55),V(.26,5,TEAL,.9,.25,.55),V(.36,5,TEAL,.8,.25,.45),V(.5,5,TEAL,.9,.3,.5),V(.66,5,TEAL,.9,.3,.5),V(.8,4,TEAL,.8,.3,.5)]},
 {n:'il11a-enh1-4dpa',x:776,y:723,w:141,h:56,bg:'#14682a',top:'#0d4a1a',band:.15,label:'4 dpa',a:.5,l:[V(.05,16,TEAL,.9,.12,.4),V(.45,22,DK,.8,.6),V(.22,7,BR,.9,.25,.7),V(.35,6,BR,.9,.3,.7),V(.45,5,BR,.8,.35,.6),V(.57,6,TEAL,.9,.35,.8),V(.68,6,TEAL,.9,.35,.7),V(.8,7,TEAL,.9,.35,.8),V(.9,5,BR,.9,.35,.7)]},
 {n:'il11a-enh1-6dpa',x:776,y:781,w:141,h:71,bg:'#13642a',top:'#0d4a1c',band:.2,label:'6 dpa',a:.62,l:[V(.45,20,DK,.8,.55),V(.12,12,DK,.4,.75),V(.1,3,MID,.7,.1,.8,.1),V(.24,3,MID,.7,.15,.9,.06),V(.45,5,BR,.8,.25,.55),V(.62,3,MID,.8,.2,.9,-.03),V(.75,3,MID,.8,.2,.9,-.05),V(.97,6,BR,.8,.4,1,-.05)]},

 {n:'il11a-enh2-2dpa',x:919,y:645,w:127,h:56,bg:'#1d5a24',top:'#0f3a18',band:.18,label:'2 dpa',a:.42,l:[[0,.28,1,.28,6,'#5fbf60',.8],V(.5,14,DK,.95,.4),V(.83,8,DK,.7,.5),V(.2,5,'#4aa850',.7,.25,.8),V(.35,5,'#4aa850',.6,.25,.9),V(.7,5,'#4aa850',.6,.25,.8),V(.95,4,'#4aa850',.7,.25,.7)]},
 {n:'il11a-enh2-4dpa',x:919,y:703,w:127,h:75,bg:'#2a7636',top:'#3f8e48',band:.12,label:'4 dpa',a:.5,l:[V(.06,6,'#1a5a24',.8,.5),V(.32,6,BR,.9,.25,.7),V(.4,4,'#a0f0a0',.8,.4,.55),V(.52,5,BR,.9,.2,.65),V(.65,5,'#7ad080',.8,.25,.7),V(.82,6,BR,.9,.25,.7),V(.9,4,BR,.8,.3,.65),V(.7,12,'#0a3a14',.6,.65)]},
 {n:'il11a-enh2-7dpa',x:919,y:780,w:127,h:71,bg:'#26622c',top:'#26622c',band:.02,label:'7 dpa',a:.53,l:[V(.1,3,'#5cb860',.7),V(.22,3,'#5cb860',.7),V(.3,5,BR,.8,.1,.7),V(.44,6,'#80d880',.8,.2,1),V(.56,3,'#5cb860',.7),V(.68,5,'#80d880',.8,.1,.5),V(.8,6,DK,.75,.55),V(.88,6,BR,.8,.25,.7)]},

 {n:'il11a-enh3-1dpa',x:1048,y:643,w:151,h:40,bg:'#0c3e18',top:'#0a3012',band:.28,label:'1 dpa',a:.33,l:[V(.12,12,DK,.8,.4),V(.28,10,DK,.8,.4),V(.55,12,DK,.8,.4),[.05,.35,.95,.35,2,MID,.8],V(.36,2,BR,.5,.35,1)]},
 {n:'il11a-enh3-2dpa',x:1048,y:684,w:151,h:42,bg:'#0e4a1c',top:'#0b2e14',band:.2,label:'2 dpa',a:.37,l:[[.02,.32,.25,.38,5,TEAL,.95],[.25,.38,.55,.52,4,TEAL,.9],[.55,.52,1,.32,4,TEAL,.9],V(.15,10,DK,.7,.55),V(.3,10,DK,.6,.65),V(.55,10,DK,.7,.7)]},
 {n:'il11a-enh3-4dpa',x:1048,y:727,w:151,h:53,bg:'#0f5a22',top:'#0a3012',band:.15,label:'4 dpa',a:.7,l:[[.02,.2,.4,.3,3,MID,.9],[.4,.3,.6,.42,3,MID,.9],[.6,.42,1,.35,3,MID,.9],V(.2,14,DK,.7,.7),V(.5,18,DK,.8,.8)]},
 {n:'il11a-enh3-6dpa',x:1048,y:781,w:151,h:70,bg:'#0b441a',top:'#0b3a16',band:.15,label:'6 dpa',a:.72,l:[V(.3,14,DK,.5,.7),V(.55,14,DK,.5,.75),V(.15,2,'#2a7a38',.7,.2,1,.05),V(.75,2,'#2a7a38',.7,.2,.9,-.03)]},

 {n:'vat1-1dpa',x:397,y:968,w:213,h:62,bg:'#125a1c',top:'#0e4416',band:.18,label:'1 dpa',a:.27,l:[V(.2,26,DK,.8,.3),V(.62,22,DK,.75,.3),V(.42,10,'#2fa032',.6,.25),V(.06,8,'#2a8f2e',.7,.25),V(.85,8,'#1f7f28',.6,.3)]},
 {n:'vat1-2dpa',x:397,y:1033,w:213,h:50,bg:'#0e521a',top:'#0c3e14',band:.18,label:'2 dpa',a:.85,l:[V(.58,14,DK,.7,.45),V(.77,10,DK,.6,.55),V(.67,8,'#2f9a30',.6,.4),V(.4,10,'#2f9a30',.5,.5)]},
 {n:'vat1-4dpa',x:397,y:1085,w:213,h:73,bg:'#0c4e1a',top:'#0a3a14',band:.12,label:'4 dpa',a:.88,l:[V(.27,20,DK,.75,.6),V(.56,16,DK,.75,.6),V(.42,9,'#2a8f28',.6,.5),V(.7,8,'#2a8f28',.5,.45,1,.05),V(.15,4,'#1f7a26',.5,.2,1,.06)]},
 {n:'vat1-6dpa',x:397,y:1161,w:213,h:87,bg:'#0e5a1e',top:'#0b4216',band:.08,label:'6 dpa',a:.92,l:[V(.3,16,DK,.65,.65),V(.5,16,DK,.75,.65),V(.72,16,DK,.6,.7),V(.4,9,'#2a9a2c',.6,.6),V(.62,9,'#2a9a2c',.6,.6),V(.18,8,'#1f8a28',.5,.5,1,.03),V(.88,6,'#1f8a28',.5,.4,1,-.03)]}
];
function drawMicro(m){
  const g=named('g',{},microLayer,'micrograph-'+m.n);
  const id='clip-'+m.n;
  const cp=make('clipPath',{id:id},g);
  make('rect',{x:m.x,y:m.y,width:m.w,height:m.h},cp);
  const inner=make('g',{'clip-path':'url(#'+id+')'},g);
  make('rect',{x:m.x,y:m.y,width:m.w,height:m.h,fill:m.bg},inner);
  make('rect',{x:m.x,y:m.y,width:m.w,height:m.h*m.band,fill:m.top,filter:'url(#b1)'},inner);
  const blur=make('g',{filter:'url(#b2)'},inner);
  /* an invisible full-panel rect gives the blurred group a non-degenerate bounding box */
  make('rect',{x:m.x,y:m.y,width:m.w,height:m.h,fill:'none'},blur);
  m.l.forEach(s=>{
    make('line',{x1:m.x+s[0]*m.w,y1:m.y+s[1]*m.h,x2:m.x+s[2]*m.w,y2:m.y+s[3]*m.h,'stroke-width':s[4],stroke:s[5],opacity:s[6]},blur);
  });
  named('rect',{x:m.x,y:m.y,width:m.w,height:m.h,fill:'none',stroke:'#222','stroke-width':1},g,'micrograph-frame');
  const ay=m.y+m.a*m.h;
  named('polygon',{points:(m.x+2)+','+(ay-4)+' '+(m.x+2)+','+(ay+4)+' '+(m.x+13)+','+ay,fill:'#fff'},g,'arrowhead');
  const t=named('text',{x:m.x+m.w-2,y:m.y+m.h-5,'text-anchor':'end','font-size':16.5},g,'stage-caption',m.label);
  t.style.fill='#fff';
}
microPanels.forEach(drawMicro);

/* region boxes on vat1 2 dpa */
named('rect',{x:398,y:1048,width:46,height:35,fill:'none',stroke:'#e8f0e8','stroke-width':1.4},microLayer,'region-1-box');
named('rect',{x:447,y:1035,width:52,height:32,fill:'none',stroke:'#e8f0e8','stroke-width':1.4},microLayer,'region-2-box');
const r1=named('text',{x:398,y:1045,'font-size':14.5},microLayer,'region-1-label','Region1');
r1.style.fill='#fff';
const r2=named('text',{x:452,y:1080,'font-size':14.5},microLayer,'region-2-label','Region2');
r2.style.fill='#fff';

/* large panels F and G */
const fSpots=[[.32,.27],[.4,.3],[.5,.25],[.6,.22],[.7,.2],[.8,.18],[.9,.16],[.95,.25],[.85,.28],[.75,.3],[.65,.34],[.55,.38],[.45,.42],[.3,.44],[.2,.5],[.12,.58],[.08,.66],[.18,.63],[.28,.55],[.38,.52],[.5,.48],[.62,.45],[.72,.4],[.82,.38],[.92,.35],[.97,.14],[.88,.08],[.78,.1],[.66,.15],[.25,.7],[.15,.75],[.35,.62],[.45,.58]];
const gSpots=[[.1,.45],[.15,.55],[.2,.6],[.28,.58],[.35,.62],[.42,.55],[.5,.6],[.58,.65],[.63,.68],[.7,.6],[.8,.55],[.88,.5],[.93,.42],[.62,.38],[.7,.36],[.78,.4],[.12,.7],[.2,.75],[.3,.78],[.38,.72],[.5,.75],[.64,.72],[.72,.75],[.85,.7],[.95,.65],[.48,.85],[.3,.85],[.16,.88]];
function drawLarge(name,x,y,w,h,cap,bg,spots,extras){
  const g=named('g',{},microLayer,name);
  const cp=make('clipPath',{id:'clip-'+name},g);
  make('rect',{x:x,y:y,width:w,height:h},cp);
  const inner=make('g',{'clip-path':'url(#clip-'+name+')'},g);
  make('rect',{x:x,y:y,width:w,height:h,fill:bg},inner);
  extras(inner);
  spots.forEach(s=>{
    const d=make('circle',{cx:x+s[0]*w,cy:y+s[1]*h,r:1.4,fill:'#7af0b0',opacity:.8},inner);
    
    
  });
  named('rect',{x:x,y:y,width:w,height:h,fill:'none',stroke:'#1a1a1a','stroke-width':1.4},g,'micrograph-frame');
  const t=named('text',{x:x+w-2,y:y+h-4,'text-anchor':'end','font-size':17},g,'region-caption',cap);
  t.style.fill='#fff';
}
drawLarge('panel-f-micrograph',618,1049,282,203,'2 dpa Region 1','#0e5a1d',fSpots,function(p){
  make('path',{d:'M618 1049 H900 V1060 C840 1058 780 1062 730 1072 C680 1085 640 1120 622 1190 L618 1200Z',fill:'#083b10',filter:'url(#b3)'},p);
  make('path',{d:'M690 1150 L755 1140 L795 1255 L655 1255Z',fill:'#348f1e',opacity:.55,filter:'url(#b8)'},p);
  make('path',{d:'M820 1125 L885 1110 L905 1170 L905 1255 L808 1255 C800 1210 805 1160 820 1125Z',fill:'#031a08',opacity:.8,filter:'url(#b8)'},p);
  make('path',{d:'M628 1195 L672 1255 L636 1255Z',fill:'#042010',opacity:.8,filter:'url(#b3)'},p);
});
drawLarge('panel-g-micrograph',909,1049,279,203,'2 dpa Region 2','#0c4a1a',gSpots,function(p){
  make('rect',{x:905,y:1045,width:290,height:95,fill:'#083a12',filter:'url(#b8)'},p);
  make('path',{d:'M1040 1190 L1068 1190 L1085 1255 L1030 1255Z',fill:'#2f8f2a',opacity:.65,filter:'url(#b8)'},p);
  make('path',{d:'M975 1205 L1000 1205 L1010 1255 L965 1255Z',fill:'#1f7a26',opacity:.45,filter:'url(#b8)'},p);
  make('path',{d:'M1175 1190 L1195 1180 L1195 1255 L1170 1255Z',fill:'#031a08',opacity:.6,filter:'url(#b8)'},p);
});
</script>
</body>
</html>
